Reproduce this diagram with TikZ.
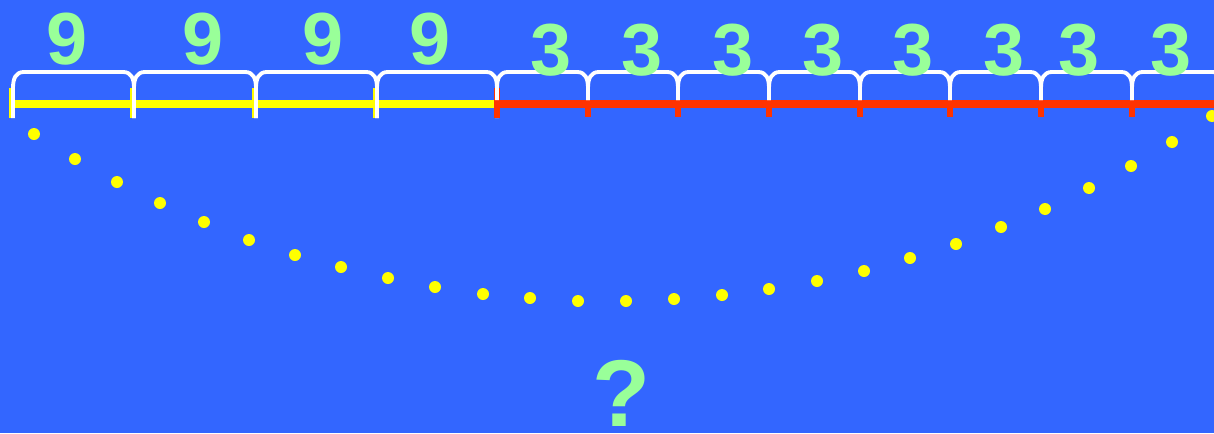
\documentclass[tikz,border=0pt]{standalone}
\usepackage{fontspec}
\setmainfont{Liberation Sans}
\definecolor{bgblue}{RGB}{51,102,255}
\definecolor{numgreen}{RGB}{153,255,153}
\definecolor{segyellow}{RGB}{255,255,0}
\definecolor{segred}{RGB}{255,51,0}
\tikzset{
  num/.style={text=numgreen,font=\bfseries\fontsize{42}{42}\selectfont,inner sep=0pt},
  brace/.style={white,line width=2.2pt},
}
\begin{document}
\begin{tikzpicture}[x=0.02cm,y=-0.02cm]
  \useasboundingbox (0,0) rectangle (1214,433);
  \clip (0,0) rectangle (1214,433);
  \fill[bgblue] (0,0) rectangle (1214,433);
  % yellow part: four nines
  \draw[segyellow,line width=4.6pt] (13,104)--(497,104);
  \foreach \x in {13,134,256,377}
    \draw[segyellow,line width=3.2pt] (\x-1,88)--(\x-1,118);
  \foreach \a/\b in {13/134,134/256,256/377,377/497}
    \draw[brace] (\a,118)--(\a,88) .. controls (\a,78) and (\a+3,72) .. (\a+11,72)
      --(\b-11,72) .. controls (\b-3,72) and (\b,78) .. (\b,88)--(\b,118);
  % red part: threes
  \draw[segred,line width=4.8pt] (497,104)--(1214,104);
  \draw[segred,line width=3pt] (497,88)--(497,118);
  \foreach \x in {588,678,769,860,950,1041,1132}
    \draw[segred,line width=3.4pt] (\x,100)--(\x,117);
  \foreach \a/\b in {497/588,588/678,678/769,769/860,860/950,950/1041,1041/1132,1132/1223}
    \draw[brace] (\a,100)--(\a,88) .. controls (\a,78) and (\a+3,72) .. (\a+11,72)
      --(\b-11,72) .. controls (\b-3,72) and (\b,78) .. (\b,88)--(\b,100);
  \foreach \x [count=\i] in {67,203,323,430}
    \node[num] (nine\i) at (\x,39) {9};
  \foreach \x [count=\i] in {551,642,733,823,913,1004,1079,1171}
    \node[num] (three\i) at (\x,50) {3};
  % dotted arc
  \foreach \x/\y in {34/134, 75/159, 117/182, 160/203, 204/222, 249/240, 295/255,
      341/267, 388/278, 435/287, 483/294, 530/298, 578/301, 626/301, 674/299,
      722/295, 769/289, 817/281, 864/271, 910/258, 956/244, 1001/227, 1045/209,
      1089/188, 1131/166, 1172/142, 1212/116} {
    \fill[segyellow] (\x,\y) circle (6);
  }
  \node[num,font=\bfseries\fontsize{54}{54}\selectfont] (quest) at (621,393) {?};
\end{tikzpicture}
\end{document}
